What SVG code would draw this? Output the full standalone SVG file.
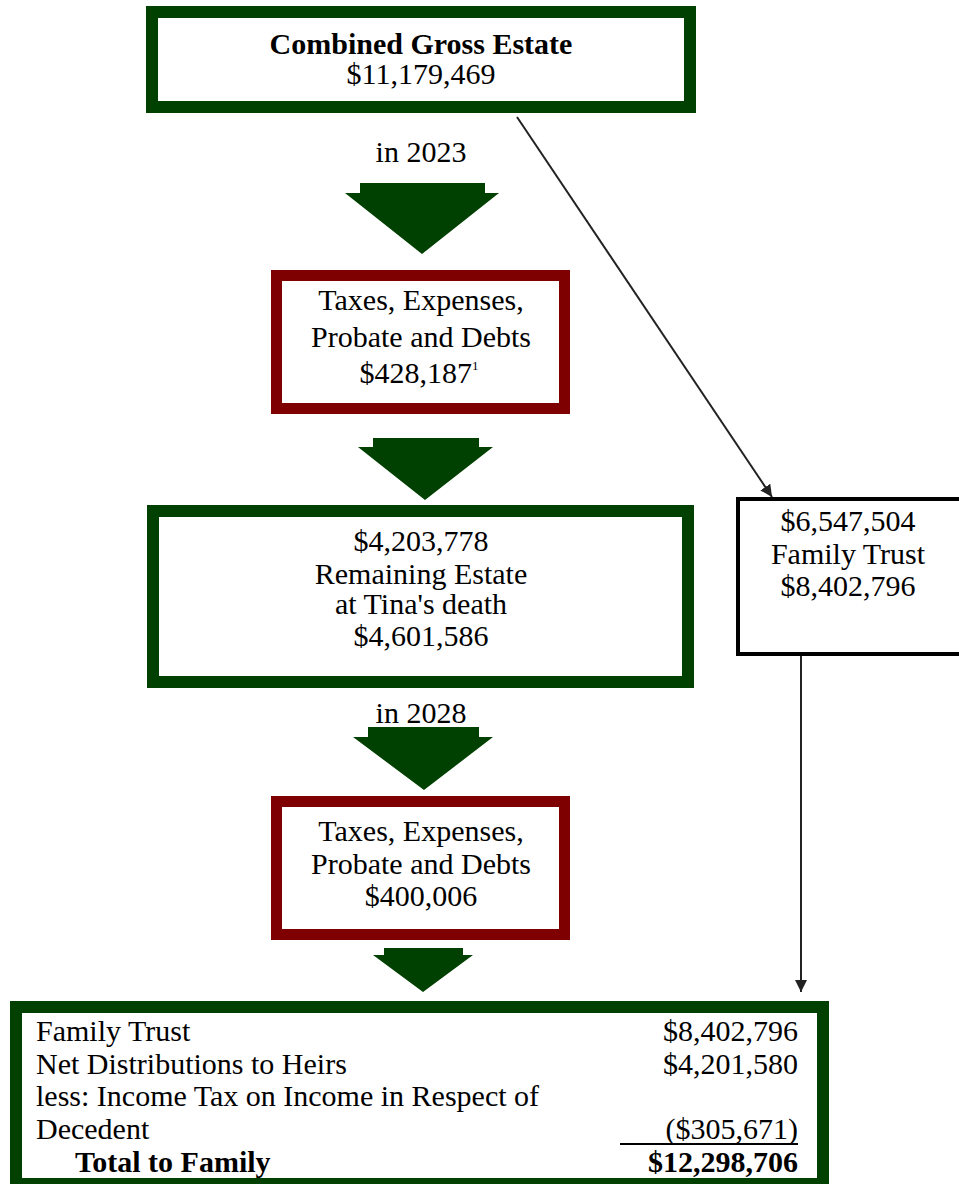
<svg xmlns="http://www.w3.org/2000/svg" width="959" height="1184" viewBox="0 0 959 1184">
<style>
text{font-family:"Times New Roman","Liberation Serif",Tinos,"DejaVu Serif",serif;font-size:30px;fill:#000}
.c{text-anchor:middle}
.r{text-anchor:end}
.b{font-weight:bold}
.g{fill:#fff;stroke:#004000;stroke-width:12}
.red{fill:#fff;stroke:#7f0000;stroke-width:11}
.blk{fill:#fff;stroke:#000;stroke-width:4}
.arr{fill:#004000}
.ln{stroke:#222;stroke-width:2;fill:none}
</style>
<defs>
<marker id="ah" viewBox="0 0 12 12" refX="12" refY="6" markerWidth="12" markerHeight="12" orient="auto" markerUnits="userSpaceOnUse"><path d="M0,0 L12,6 L0,12 Z" fill="#222"/></marker>
</defs>
<g id="connectors">
<line class="ln" x1="517" y1="117" x2="772" y2="497" marker-end="url(#ah)"/>
<line class="ln" x1="801" y1="656" x2="801" y2="992" marker-end="url(#ah)"/>
</g>
<g id="gross">
<rect class="g" x="152" y="12" width="538" height="95"/>
<text class="c b" x="421" y="54">Combined Gross Estate</text>
<text class="c" x="421" y="84">$11,179,469</text>
</g>
<g id="label2023"><text class="c" x="421" y="162">in 2023</text></g>
<g id="arrow1"><path class="arr" d="M360,183 L485,183 L485,193 L499,193 L422,254 L345,193 L360,193 Z"/></g>
<g id="taxes1">
<rect class="red" x="276.5" y="275.5" width="288" height="133"/>
<text class="c" x="421" y="310">Taxes, Expenses,</text>
<text class="c" x="421" y="347">Probate and Debts</text>
<text class="c" x="419" y="383">$428,187<tspan font-size="13" dy="-13">1</tspan></text>
</g>
<g id="arrow2"><path class="arr" d="M373,438 L479,438 L479,447 L493,447 L425,500 L358,447 L373,447 Z"/></g>
<g id="remaining">
<rect class="g" x="153" y="511" width="535" height="171"/>
<text class="c" x="421" y="551">$4,203,778</text>
<text class="c" x="421" y="584">Remaining Estate</text>
<text class="c" x="421" y="614">at Tina's death</text>
<text class="c" x="421" y="646">$4,601,586</text>
</g>
<g id="label2028"><text class="c" x="421" y="723">in 2028</text></g>
<g id="arrow3"><path class="arr" d="M368,727 L479,727 L479,737 L493,737 L424,790 L353,737 L368,737 Z"/></g>
<g id="taxes2">
<rect class="red" x="276.5" y="801.5" width="288" height="133"/>
<text class="c" x="421" y="841">Taxes, Expenses,</text>
<text class="c" x="421" y="874">Probate and Debts</text>
<text class="c" x="421" y="906">$400,006</text>
</g>
<g id="arrow4"><path class="arr" d="M384,948 L463,948 L463,955 L473,955 L423,992 L373,955 L384,955 Z"/></g>
<g id="familytrust">
<rect class="blk" x="738" y="499" width="230" height="155"/>
<text class="c" x="848" y="531">$6,547,504</text>
<text class="c" x="848" y="564">Family Trust</text>
<text class="c" x="848" y="596">$8,402,796</text>
</g>
<g id="total">
<rect class="g" x="16" y="1007" width="807" height="177"/>
<text x="36" y="1041">Family Trust</text>
<text class="r" x="798" y="1041">$8,402,796</text>
<text x="36" y="1074">Net Distributions to Heirs</text>
<text class="r" x="798" y="1074">$4,201,580</text>
<text x="36" y="1106">less: Income Tax on Income in Respect of</text>
<text x="36" y="1139">Decedent</text>
<text class="r" x="798" y="1139">($305,671)</text>
<line x1="620" y1="1144" x2="798" y2="1144" stroke="#000" stroke-width="2"/>
<text class="b" x="75" y="1172">Total to Family</text>
<text class="r b" x="798" y="1172">$12,298,706</text>
</g>
</svg>
